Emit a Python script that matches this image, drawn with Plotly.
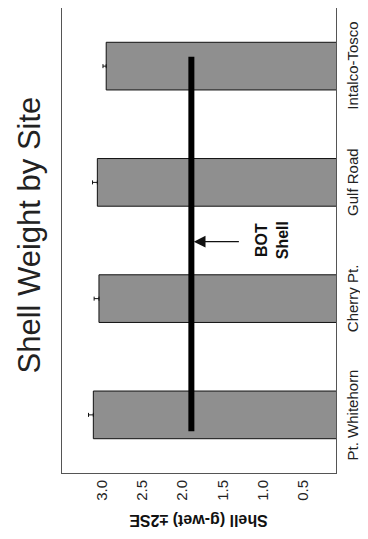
import plotly.graph_objects as go

sites = ["Pt. Whitehorn", "Cherry Pt.", "Gulf Road", "Intalco-Tosco"]
site_pos = [0, 1, 2, 3]
shell_mean = [3.11, 3.04, 3.06, 2.95]
shell_2se = [0.06, 0.06, 0.06, 0.04]
bot_value = [1.89, 1.89]
bot_span = [-0.14, 3.08]
x_ticks = [3.0, 2.5, 2.0, 1.5, 1.0, 0.5]
x_ticklabels = ["3.0", "2.5", "2.0", "1.5", "1.0", "0.5"]

FONT = "Liberation Sans, Arial, Helvetica, sans-serif"

fig = go.Figure()
fig.add_trace(go.Bar(
    x=shell_mean, y=site_pos, orientation="h", width=0.41,
    marker=dict(color="#8f8f8f", line=dict(color="#111111", width=1)),
    error_x=dict(type="data", symmetric=False, array=shell_2se,
                 arrayminus=[0] * len(shell_2se), color="#111111",
                 thickness=1, width=2),
    showlegend=False,
))
fig.add_trace(go.Scatter(
    x=bot_value, y=bot_span, mode="lines",
    line=dict(color="black", width=6), showlegend=False,
))

fig.update_xaxes(
    range=[3.5, 0.09], tickvals=x_ticks, ticktext=x_ticklabels,
    tickangle=-90, showgrid=False, zeroline=False, automargin=False,
    showline=True, linecolor="#555555", linewidth=1, mirror=True,
    ticks="", tickfont=dict(family=FONT, size=15, color="#222"),
)
fig.update_yaxes(
    range=[-0.5, 3.5], tickvals=site_pos, showticklabels=False,
    showgrid=False, zeroline=False, automargin=False,
    showline=True, linecolor="#555555", linewidth=1, mirror=True,
    ticks="",
)

for name, pos in zip(sites, site_pos):
    fig.add_annotation(
        text=name, xref="paper", yref="y", x=1.022, y=pos,
        xanchor="left", yanchor="middle", textangle=-90, showarrow=False,
        font=dict(family=FONT, size=15, color="#222"),
    )

fig.add_annotation(
    text="Shell Weight by Site", xref="paper", yref="paper",
    x=-0.12, y=0.511, xanchor="center", yanchor="middle",
    textangle=-90, showarrow=False,
    font=dict(family=FONT, size=31, color="#222"),
)
fig.add_annotation(
    text="<b>Shell (g-wet) ±2SE</b>", xref="paper", yref="paper",
    x=0.496, y=-0.101, xanchor="center", yanchor="middle",
    textangle=180, showarrow=False,
    font=dict(family=FONT, size=16, color="#111"),
)
fig.add_annotation(
    x=1.86, y=1.49, ax=1.28, ay=1.49, xref="x", yref="y",
    axref="x", ayref="y", text="", showarrow=True,
    arrowhead=2, arrowsize=1.8, arrowwidth=1.3, arrowcolor="#111",
)
fig.add_annotation(
    text="<b>BOT<br>Shell</b>", x=0.89, y=1.5, xref="x", yref="y",
    textangle=-90, showarrow=False, xanchor="center", yanchor="middle",
    font=dict(family=FONT, size=16, color="#111"),
)

# page body has an 8px default margin, so the figure is sized to fit inside
fig.update_layout(
    width=360, height=531,
    margin=dict(l=54, r=32, t=0, b=66),
    paper_bgcolor="white", plot_bgcolor="white",
    bargap=0.59,
)

fig.write_html("out.html")
